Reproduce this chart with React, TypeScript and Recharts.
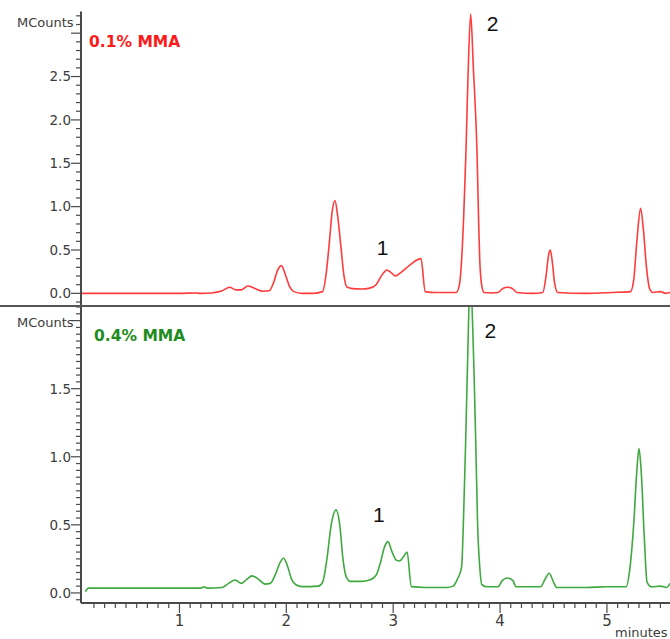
import { LineChart, Line, XAxis, YAxis, ReferenceDot } from "recharts";

// retention time (minutes) and signal (MCounts) for 0.1% MMA
const topTimes = [
  0.08, 0.6, 1.0, 1.15, 1.2, 1.3, 1.4, 1.47, 1.53, 1.58, 1.64, 1.7, 1.78, 1.84,
  1.88, 1.92, 1.955, 1.99, 2.03, 2.07, 2.15, 2.25, 2.34, 2.37, 2.4, 2.43, 2.455,
  2.48, 2.51, 2.54, 2.57, 2.62, 2.7, 2.78, 2.84, 2.9, 2.94, 2.98, 3.02, 3.07,
  3.15, 3.26, 3.3, 3.4, 3.55, 3.59, 3.62, 3.64, 3.66, 3.68, 3.7, 3.725, 3.75,
  3.785, 3.8, 3.81, 3.83, 3.85, 3.92, 3.98, 4.03, 4.07, 4.11, 4.16, 4.3, 4.4,
  4.43, 4.455, 4.47, 4.49, 4.51, 4.54, 4.8, 5.05, 5.22, 5.25, 5.28, 5.315, 5.34,
  5.37, 5.4, 5.43, 5.5, 5.55, 5.59,
];
const topCounts = [
  0.0, 0.0, 0.0, 0.005, 0.0, 0.005, 0.03, 0.07, 0.04, 0.04, 0.085, 0.06, 0.025,
  0.03, 0.12, 0.27, 0.32, 0.22, 0.08, 0.02, 0.0, 0.0, 0.02, 0.2, 0.55, 0.95,
  1.07, 0.9, 0.55, 0.2, 0.07, 0.055, 0.05, 0.06, 0.1, 0.22, 0.27, 0.24, 0.2,
  0.24, 0.32, 0.4, 0.02, 0.01, 0.01, 0.01, 0.1, 0.38, 0.9, 1.6, 2.5, 3.22, 2.6,
  1.6, 0.8, 0.38, 0.08, 0.01, 0.005, 0.01, 0.06, 0.07, 0.06, 0.01, 0.0, 0.01,
  0.2, 0.45, 0.5, 0.35, 0.12, 0.01, 0.0, 0.01, 0.02, 0.15, 0.6, 0.98, 0.75,
  0.3, 0.05, 0.01, 0.02, 0.0, 0.01,
];

// retention time (minutes) and signal (MCounts) for 0.4% MMA
const bottomTimes = [
  0.12, 0.15, 0.6, 1.0, 1.2, 1.23, 1.26, 1.4, 1.46, 1.52, 1.58, 1.63, 1.68,
  1.74, 1.8, 1.85, 1.9, 1.94, 1.975, 2.01, 2.05, 2.09, 2.15, 2.3, 2.34, 2.38,
  2.42, 2.465, 2.5, 2.53, 2.56, 2.6, 2.7, 2.78, 2.84, 2.88, 2.92, 2.95, 2.99,
  3.03, 3.06, 3.1, 3.13, 3.17, 3.3, 3.5, 3.56, 3.6, 3.64, 3.66, 3.676, 3.695,
  3.72, 3.755, 3.774, 3.79, 3.81, 3.83, 3.88, 3.98, 4.02, 4.07, 4.12, 4.15,
  4.38, 4.42, 4.46, 4.5, 4.53, 4.8, 5.0, 5.18, 5.21, 5.25, 5.28, 5.3, 5.32,
  5.35, 5.375, 5.42, 5.5, 5.56, 5.59,
];
const bottomCounts = [
  0.01, 0.035, 0.035, 0.035, 0.035, 0.045, 0.035, 0.04, 0.07, 0.095, 0.07, 0.1,
  0.125, 0.1, 0.065, 0.07, 0.14, 0.22, 0.255, 0.2, 0.1, 0.06, 0.046, 0.05,
  0.08, 0.25, 0.5, 0.61, 0.5, 0.25, 0.12, 0.085, 0.085, 0.095, 0.13, 0.22,
  0.34, 0.377, 0.3, 0.24, 0.235, 0.27, 0.3, 0.046, 0.04, 0.04, 0.05, 0.1,
  0.19, 0.6, 1.05, 1.66, 2.3, 1.66, 1.05, 0.5, 0.19, 0.06, 0.045, 0.045, 0.09,
  0.11, 0.09, 0.045, 0.045, 0.1, 0.145, 0.08, 0.04, 0.04, 0.045, 0.045, 0.15,
  0.5, 0.9, 1.06, 0.9, 0.4, 0.08, 0.045, 0.05, 0.04, 0.07,
];

// peak annotations: label, minutes, MCounts
const topPeaks = [
  { name: "1", time: 2.9, counts: 0.535 },
  { name: "2", time: 3.93, counts: 3.11 },
];
const bottomPeaks = [
  { name: "1", time: 2.865, counts: 0.574 },
  { name: "2", time: 3.91, counts: 1.93 },
];

// labelled ticks
const topYLabels = [0, 0.5, 1, 1.5, 2, 2.5];
const bottomYLabels = [0, 0.5, 1, 1.5];
const xMajorTicks = [1, 2, 3, 4, 5];

const topData = topTimes.map((t, i) => ({ time: t, counts: topCounts[i] }));
const bottomData = bottomTimes.map((t, i) => ({ time: t, counts: bottomCounts[i] }));

const steps = (from: number, to: number, step: number) => {
  const out: number[] = [];
  const n = Math.round((to - from) / step);
  for (let i = 0; i <= n; i++) out.push(Math.round((from + i * step) * 1000) / 1000);
  return out;
};

const topYTicks = steps(-0.1, 3.2, 0.1);
const bottomYTicks = steps(-0.05, 2.1, 0.05);
const xTicks = steps(0.2, 5.5, 0.1);

const axisColor = "#4a4a4a";
const tickFont = "'DejaVu Sans', sans-serif";
const xDomain = [0.079, 5.59];

const round3 = (v: number) => Math.round(v * 1000) / 1000;

const YTick = (props: any) => {
  const { x, y, payload, labels } = props;
  const v = round3(payload.value);
  const major = Math.abs(v * 2 - Math.round(v * 2)) < 1e-6;
  const labelled = labels.includes(v);
  return (
    <g>
      <line x1={x} x2={x - (major ? 10 : 5)} y1={y} y2={y} stroke={axisColor} strokeWidth={1.2} />
      {labelled && (
        <text x={x - 10} y={y} dy="0.36em" textAnchor="end" fontSize={13.5} fontFamily={tickFont} fill="#3c3c3c">
          {v.toFixed(1)}
        </text>
      )}
    </g>
  );
};

const XTick = (props: any) => {
  const { x, y, payload } = props;
  const v = round3(payload.value);
  const major = xMajorTicks.includes(v);
  return (
    <g>
      <line x1={x} x2={x} y1={y} y2={y + (major ? 10 : 5)} stroke={axisColor} strokeWidth={1.2} />
      {major && (
        <text x={x} y={y + 11} dy="0.8em" textAnchor="middle" fontSize={15} fontFamily={tickFont} fill="#3c3c3c">
          {v}
        </text>
      )}
    </g>
  );
};

const peakLabel = (name: string) => (p: any) => (
  <text x={p.cx} y={p.cy} dy="0.36em" textAnchor="middle" fontSize={21} fontFamily="'Liberation Sans', Arial, sans-serif" fill="#111">
    {name}
  </text>
);

const textBase: React.CSSProperties = {
  position: "absolute",
  whiteSpace: "nowrap",
  lineHeight: 1,
  fontFamily: tickFont,
};

export default function App() {
  return (
    <div style={{ position: "absolute", left: 0, top: 0, width: 670, height: 639, background: "#fff", overflow: "hidden" }}>
      <div style={{ position: "absolute", left: 0, top: 0 }}>
        <LineChart width={670} height={306} data={topData} margin={{ top: 11.5, right: 0, bottom: 0.5, left: 0 }}>
          <XAxis dataKey="time" type="number" domain={xDomain} allowDataOverflow hide />
          <YAxis
            type="number"
            domain={[-0.14, 3.25]}
            allowDataOverflow
            width={81}
            ticks={topYTicks}
            interval={0}
            tickSize={0}
            tickMargin={0}
            tick={<YTick labels={topYLabels} />}
            axisLine={{ stroke: axisColor, strokeWidth: 2 }}
          />
          <Line type="monotone" dataKey="counts" stroke="#ff3b3b" strokeWidth={1.6} dot={false} isAnimationActive={false} />
          {topPeaks.map((p) => (
            <ReferenceDot key={p.name} x={p.time} y={p.counts} r={1} shape={peakLabel(p.name)} />
          ))}
        </LineChart>
      </div>
      <div style={{ position: "absolute", left: 0, top: 307 }}>
        <LineChart width={670} height={332} data={bottomData} margin={{ top: 0, right: 0, bottom: 0, left: 0 }}>
          <XAxis
            dataKey="time"
            type="number"
            domain={xDomain}
            allowDataOverflow
            height={36}
            ticks={xTicks}
            interval={0}
            tickSize={0}
            tickMargin={0}
            tick={<XTick />}
            axisLine={{ stroke: axisColor, strokeWidth: 2 }}
          />
          <YAxis
            type="number"
            domain={[-0.074, 2.1]}
            allowDataOverflow
            width={81}
            ticks={bottomYTicks}
            interval={0}
            tickSize={0}
            tickMargin={0}
            tick={<YTick labels={bottomYLabels} />}
            axisLine={{ stroke: axisColor, strokeWidth: 2 }}
          />
          <Line type="monotone" dataKey="counts" stroke="#3fa93f" strokeWidth={1.6} dot={false} isAnimationActive={false} />
          {bottomPeaks.map((p) => (
            <ReferenceDot key={p.name} x={p.time} y={p.counts} r={1} shape={peakLabel(p.name)} />
          ))}
        </LineChart>
      </div>
      <div style={{ position: "absolute", left: 0, top: 305, width: 670, height: 2, background: "#555" }} />
      <div style={{ ...textBase, left: 17, top: 16, fontSize: 13, color: "#3c3c3c" }}>MCounts</div>
      <div style={{ ...textBase, left: 17, top: 316, fontSize: 13, color: "#3c3c3c" }}>MCounts</div>
      <div style={{ ...textBase, left: 89, top: 35, fontSize: 15.5, fontWeight: "bold", color: "#ff1a1a" }}>0.1% MMA</div>
      <div style={{ ...textBase, left: 94, top: 329, fontSize: 15.5, fontWeight: "bold", color: "#1e8c1e" }}>0.4% MMA</div>
      <div style={{ ...textBase, left: 615, top: 626, fontSize: 13, color: "#3c3c3c" }}>minutes</div>
    </div>
  );
}
